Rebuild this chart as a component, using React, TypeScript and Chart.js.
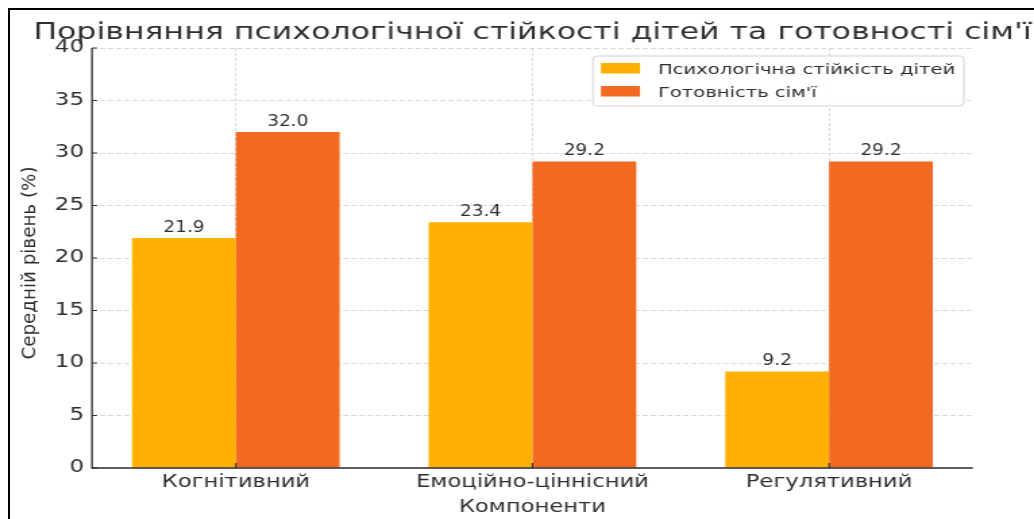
import { useEffect, useRef } from 'react';
import { Chart, registerables } from 'chart.js';

Chart.register(...registerables);

const categories = ['Когнітивний', 'Емоційно-ціннісний', 'Регулятивний'];
const childResilience = [21.9, 23.4, 9.2];
const familyReadiness = [32.0, 29.2, 29.2];
const seriesLabels = ['Психологічна стійкість дітей', "Готовність сім'ї"];
const seriesColors = ['#FFAF00', '#F26A21'];
const titleText = "Порівняння психологічної стійкості дітей та готовності сім'ї";
const xTitle = 'Компоненти';
const yTitle = 'Середній рівень (%)';
const yMin = 0;
const yMax = 40;
const yStep = 5;

const SX = 1.35;
const W = Math.round(1034 / SX);
const H = 519;
const px = (x: number) => x / SX;
const FONT = "'DejaVu Sans', sans-serif";
const TXT = '#2e2e2e';

const decor = {
  id: 'decor',
  afterDatasetsDraw(chart: any) {
    const ctx = chart.ctx as CanvasRenderingContext2D;
    const { left, right, top, bottom } = chart.chartArea;
    const xs = chart.scales.x;
    const ys = chart.scales.y;
    ctx.save();

    // spines
    ctx.strokeStyle = TXT;
    ctx.lineWidth = 1.3;
    ctx.beginPath();
    ctx.moveTo(left, top);
    ctx.lineTo(left, bottom);
    ctx.lineTo(right, bottom);
    ctx.stroke();

    // inward ticks
    ctx.lineWidth = 1.1;
    ctx.beginPath();
    ys.ticks.forEach((t: any) => {
      const y = ys.getPixelForValue(t.value);
      ctx.moveTo(left, y);
      ctx.lineTo(left + px(5), y);
    });
    categories.forEach((_, i) => {
      const x = xs.getPixelForValue(i);
      ctx.moveTo(x, bottom);
      ctx.lineTo(x, bottom - 5);
    });
    ctx.stroke();

    // value labels
    ctx.fillStyle = TXT;
    ctx.font = `13.7px ${FONT}`;
    ctx.textAlign = 'center';
    ctx.textBaseline = 'alphabetic';
    chart.data.datasets.forEach((ds: any, di: number) => {
      const meta = chart.getDatasetMeta(di);
      meta.data.forEach((el: any, i: number) => {
        const v = ds.data[i].y;
        ctx.save();
        ctx.translate(el.x, el.y - 6);
        ctx.scale(1, 1.18);
        ctx.fillText(v.toFixed(1), 0, 0);
        ctx.restore();
      });
    });

    // x category labels
    ctx.font = `16.8px ${FONT}`;
    categories.forEach((c, i) => {
      ctx.fillText(c, xs.getPixelForValue(i), 486.5);
    });
    // x title
    ctx.fillText(xTitle, (left + right) / 2, 512);

    // title
    ctx.font = `23.4px ${FONT}`;
    ctx.fillText(titleText, (left + right) / 2, 38.5);

    // y title
    ctx.save();
    ctx.translate(px(34.5), 263);
    ctx.scale(0.72, 1);
    ctx.rotate(-Math.PI / 2);
    ctx.font = `18.3px ${FONT}`;
    ctx.fillText(yTitle, 0, 0);
    ctx.restore();

    // legend
    const lx0 = px(593), lx1 = px(964), ly0 = 56, ly1 = 106;
    ctx.fillStyle = 'rgba(255,255,255,0.8)';
    ctx.strokeStyle = '#d4d4d4';
    ctx.lineWidth = 1;
    ctx.beginPath();
    if ((ctx as any).roundRect) (ctx as any).roundRect(lx0, ly0, lx1 - lx0, ly1 - ly0, 3);
    else ctx.rect(lx0, ly0, lx1 - lx0, ly1 - ly0);
    ctx.fill();
    ctx.stroke();
    ctx.font = `14.5px ${FONT}`;
    ctx.textAlign = 'left';
    const rows = [
      { py: 63, base: 74 },
      { py: 86, base: 97 },
    ];
    seriesLabels.forEach((lab, i) => {
      ctx.fillStyle = seriesColors[i];
      ctx.fillRect(px(601), rows[i].py, px(640) - px(601), 10.5);
      ctx.fillStyle = TXT;
      ctx.fillText(lab, px(658), rows[i].base);
    });

    ctx.restore();
  },
};

export default function App() {
  const ref = useRef<HTMLCanvasElement | null>(null);
  useEffect(() => {
    if (!ref.current) return;
    const chart = new Chart(ref.current, {
      type: 'bar',
      data: {
        datasets: [
          {
            label: seriesLabels[0],
            data: childResilience.map((v, i) => ({ x: i, y: v })),
            backgroundColor: seriesColors[0],
            borderWidth: 0,
          },
          {
            label: seriesLabels[1],
            data: familyReadiness.map((v, i) => ({ x: i, y: v })),
            backgroundColor: seriesColors[1],
            borderWidth: 0,
          },
        ],
      },
      options: {
        responsive: false,
        animation: false,
        devicePixelRatio: 1,
        layout: { padding: { left: 0, right: W - px(973), top: 48, bottom: 0 } },
        plugins: {
          legend: { display: false },
          title: { display: false },
          tooltip: { enabled: false },
        },
        datasets: { bar: { categoryPercentage: 0.7, barPercentage: 1.0 } },
        scales: {
          x: {
            type: 'linear',
            min: -0.485,
            max: 2.485,
            offset: false,
            afterBuildTicks: (s: any) => {
              s.ticks = categories.map((_, i) => ({ value: i }));
            },
            afterFit: (s: any) => {
              s.height = H - 468;
            },
            ticks: { display: false },
            grid: { color: '#d9d9d9', lineWidth: 1, drawTicks: false, offset: false },
            border: { display: false, dash: [3, 2] },
          },
          y: {
            min: yMin,
            max: yMax,
            afterFit: (s: any) => {
              s.width = px(92);
            },
            ticks: {
              stepSize: yStep,
              padding: px(8),
              color: TXT,
              font: { family: FONT, size: 17 },
            },
            grid: { color: '#d9d9d9', lineWidth: 1, drawTicks: false },
            border: { display: false, dash: [4, 2] },
          },
        },
      } as any,
      plugins: [decor],
    });
    return () => chart.destroy();
  }, []);

  return (
    <div style={{ position: 'fixed', left: 0, top: 0, width: 1034, height: 519, overflow: 'hidden', background: '#fff' }}>
      <canvas
        ref={ref}
        width={W}
        height={H}
        style={{ position: 'absolute', left: 0, top: 0, width: '1034px', height: '519px', display: 'block' }}
      />
      <div
        style={{
          position: 'absolute',
          left: 8,
          top: 8,
          width: 1100,
          height: 600,
          borderTop: '2px solid #000',
          borderLeft: '2px solid #000',
          pointerEvents: 'none',
        }}
      />
    </div>
  );
}
